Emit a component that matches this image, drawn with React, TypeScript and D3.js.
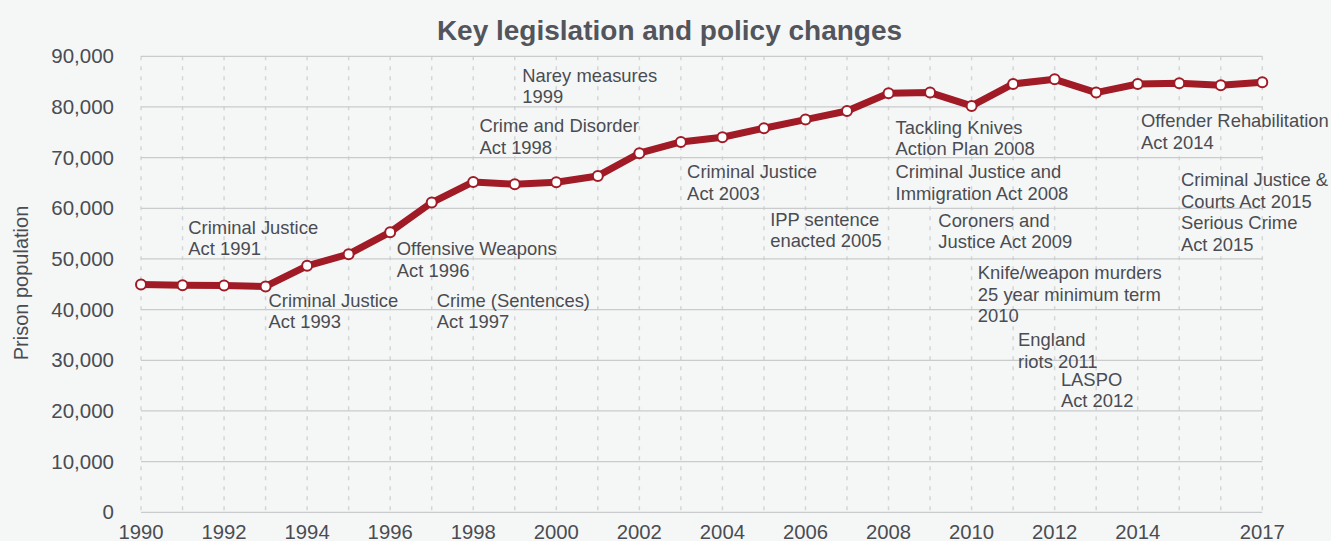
import React from "react";
import * as d3 from "d3";

const years: number[] = [1990,1991,1992,1993,1994,1995,1996,1997,1998,1999,2000,2001,2002,2003,2004,2005,2006,2007,2008,2009,2010,2011,2012,2013,2014,2015,2016,2017];
const population: number[] = [44970,44830,44770,44570,48640,50950,55290,61140,65210,64750,65150,66390,70870,73100,74020,75800,77510,79210,82700,82840,80200,84540,85460,82840,84540,84670,84280,84870];
const xTickYears: number[] = [1990,1992,1994,1996,1998,2000,2002,2004,2006,2008,2010,2012,2014,2017];
const yTicks: number[] = [0,10000,20000,30000,40000,50000,60000,70000,80000,90000];

// annotations: anchor year (x of left edge), anchor value (y of first baseline), lines
const annoYears: number[] = [1991.14,1993.07,1996.16,1997.12,1998.15,1999.18,2003.15,2005.15,2008.17,2008.17,2009.2,2010.15,2011.12,2012.15,2014.08,2015.04];
const annoValues: number[] = [54930,40520,50780,40520,75000,84990,65920,56570,74670,65980,56370,45990,32820,24930,75990,64400];
const annoTexts: string[][] = [
  ["Criminal Justice", "Act 1991"],
  ["Criminal Justice", "Act 1993"],
  ["Offensive Weapons", "Act 1996"],
  ["Crime (Sentences)", "Act 1997"],
  ["Crime and Disorder", "Act 1998"],
  ["Narey measures", "1999"],
  ["Criminal Justice", "Act 2003"],
  ["IPP sentence", "enacted 2005"],
  ["Tackling Knives", "Action Plan 2008"],
  ["Criminal Justice and", "Immigration Act 2008"],
  ["Coroners and", "Justice Act 2009"],
  ["Knife/weapon murders", "25 year minimum term", "2010"],
  ["England", "riots 2011"],
  ["LASPO", "Act 2012"],
  ["Offender Rehabilitation", "Act 2014"],
  ["Criminal Justice &", "Courts Act 2015", "Serious Crime", "Act 2015"],
];

const W = 1331;
const H = 541;
const FONT = "'Liberation Sans', Arial, Helvetica, sans-serif";

export default function App() {
  const x = d3.scaleLinear().domain([1990, 2017]).range([141, 1262.3]);
  const y = d3.scaleLinear().domain([0, 90000]).range([512.3, 56.3]);
  const line = d3.line<number>().x((_, i) => x(years[i])).y((d) => y(d));
  const fmt = d3.format(",");
  const lineH = 21.5;

  return (
    <div style={{ position: "fixed", left: 0, top: 0 }}>
      <svg width={W} height={H} style={{ display: "block" }} fontFamily={FONT}>
        <rect x={0} y={0} width={W} height={H} fill="#f5f7f7" />
        {years.map((yr) => (
          <line key={"v" + yr} x1={x(yr)} x2={x(yr)} y1={y(90000)} y2={y(0)} stroke="#d3d5d6" strokeWidth={1.5} strokeDasharray="4 6" />
        ))}
        {yTicks.map((t) => (
          <line key={"h" + t} x1={x(1990)} x2={x(2017)} y1={y(t)} y2={y(t)} stroke="#c9cbcc" strokeWidth={1.2} />
        ))}
        {yTicks.map((t) => (
          <text key={"yt" + t} x={114} y={y(t) + 7} textAnchor="end" fontSize={20.5} fill="#4a4c52">{fmt(t)}</text>
        ))}
        {xTickYears.map((t) => (
          <text key={"xt" + t} x={x(t)} y={539} textAnchor="middle" fontSize={20.3} fill="#4a4c52">{t}</text>
        ))}
        <text transform={`translate(28,283) rotate(-90)`} textAnchor="middle" fontSize={20} fill="#4a4c52">Prison population</text>
        <text x={669.5} y={40} textAnchor="middle" fontSize={28} fontWeight={700} fill="#52555c">Key legislation and policy changes</text>
        {annoTexts.map((lines, i) => (
          <text key={"a" + i} x={x(annoYears[i])} y={y(annoValues[i])} fontSize={18.4} fill="#4a4c52">
            {lines.map((l, j) => (
              <tspan key={j} x={x(annoYears[i])} dy={j === 0 ? 0 : lineH}>{l}</tspan>
            ))}
          </text>
        ))}
        <path d={line(population) || ""} fill="none" stroke="#a01b25" strokeWidth={7} strokeLinejoin="round" />
        {population.map((v, i) => (
          <circle key={"c" + i} cx={x(years[i])} cy={y(v)} r={5} fill="#ffffff" stroke="#a01b25" strokeWidth={2} />
        ))}
      </svg>
    </div>
  );
}
